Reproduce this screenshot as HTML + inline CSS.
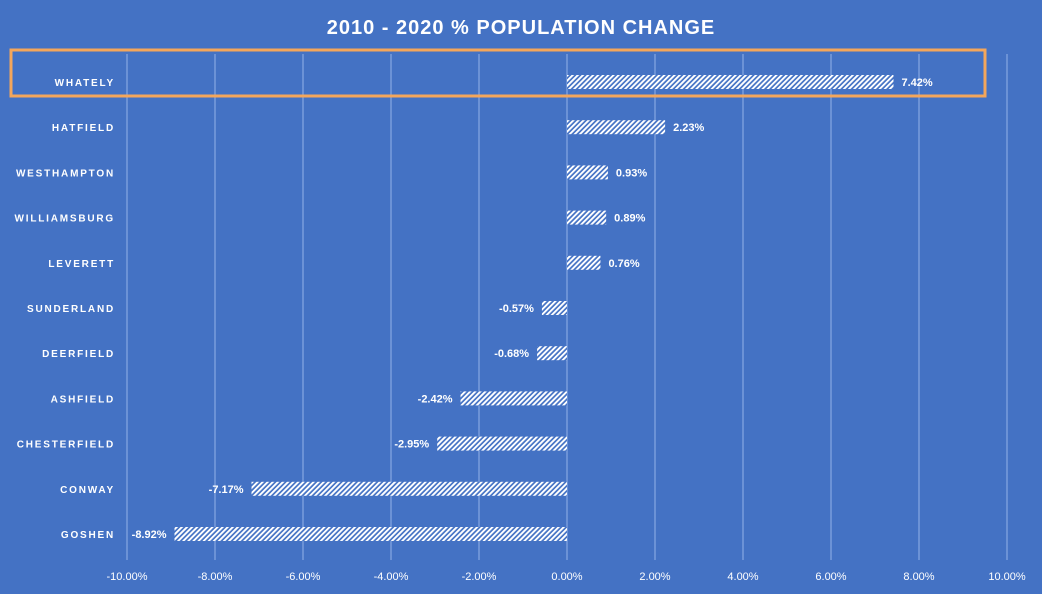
<!DOCTYPE html>
<html><head><meta charset="utf-8"><style>
html,body{margin:0;padding:0;background:#4472C4;}
svg{display:block;font-family:"Liberation Sans",sans-serif;}
</style></head><body>
<svg id="chart" width="1042" height="594">
<defs><pattern id="hatch" width="3.6" height="3.6" patternUnits="userSpaceOnUse" patternTransform="rotate(45)">
<rect width="3.6" height="3.6" fill="#4472C4"/><rect width="1.9" height="3.6" fill="#ffffff"/></pattern></defs>
<rect width="1042" height="594" fill="#4472C4"/>
<text x="521" y="34" text-anchor="middle" font-size="20" font-weight="bold" fill="#fff" letter-spacing="1">2010 - 2020 % POPULATION CHANGE</text>
<g id="grid"></g><g id="bars"></g><g id="xaxis"></g>
<rect x="11" y="50" width="974" height="46" fill="none" stroke="#F4A65B" stroke-width="3"/>
</svg>
<script>
const towns=["WHATELY","HATFIELD","WESTHAMPTON","WILLIAMSBURG","LEVERETT","SUNDERLAND","DEERFIELD","ASHFIELD","CHESTERFIELD","CONWAY","GOSHEN"];
const values=[7.42,2.23,0.93,0.89,0.76,-0.57,-0.68,-2.42,-2.95,-7.17,-8.92];
const ticks=[-10,-8,-6,-4,-2,0,2,4,6,8,10];
const NS="http://www.w3.org/2000/svg";
const x=v=>567+v*44;
const y=i=>82+i*45.2;
function mk(t,a,p){const e=document.createElementNS(NS,t);for(const k in a)e.setAttribute(k,a[k]);p.appendChild(e);return e;}
const grid=document.getElementById('grid'),bars=document.getElementById('bars'),xa=document.getElementById('xaxis');
ticks.forEach(t=>{
 const l=mk('line',{x1:x(t),x2:x(t),y1:54,y2:560,stroke:'#7A9CDB','stroke-width':1.5},grid);
 
 
 const tx=mk('text',{x:x(t),y:580,'text-anchor':'middle','font-size':11,fill:'#fff'},xa);
 tx.textContent=t.toFixed(2)+'%';
 
 
});
towns.forEach((n,i)=>{
 const v=values[i],cy=y(i);
 const lb=mk('text',{x:115,y:cy+4,'text-anchor':'end','font-size':10,'font-weight':'bold',fill:'#fff','letter-spacing':1.8},bars);
 lb.textContent=n;
 
 
 const x0=Math.min(x(0),x(v)),w=Math.abs(x(v)-x(0));
 const r=mk('rect',{x:x0,y:cy-7,width:w,height:14,fill:'url(#hatch)'},bars);
 
 
 const vt=mk('text',{x:v>=0?x(v)+8:x(v)-8,y:cy+4,'text-anchor':v>=0?'start':'end','font-size':11,'font-weight':'bold',fill:'#fff'},bars);
 vt.textContent=v.toFixed(2)+'%';
 
 
});
</script>
</body></html>
